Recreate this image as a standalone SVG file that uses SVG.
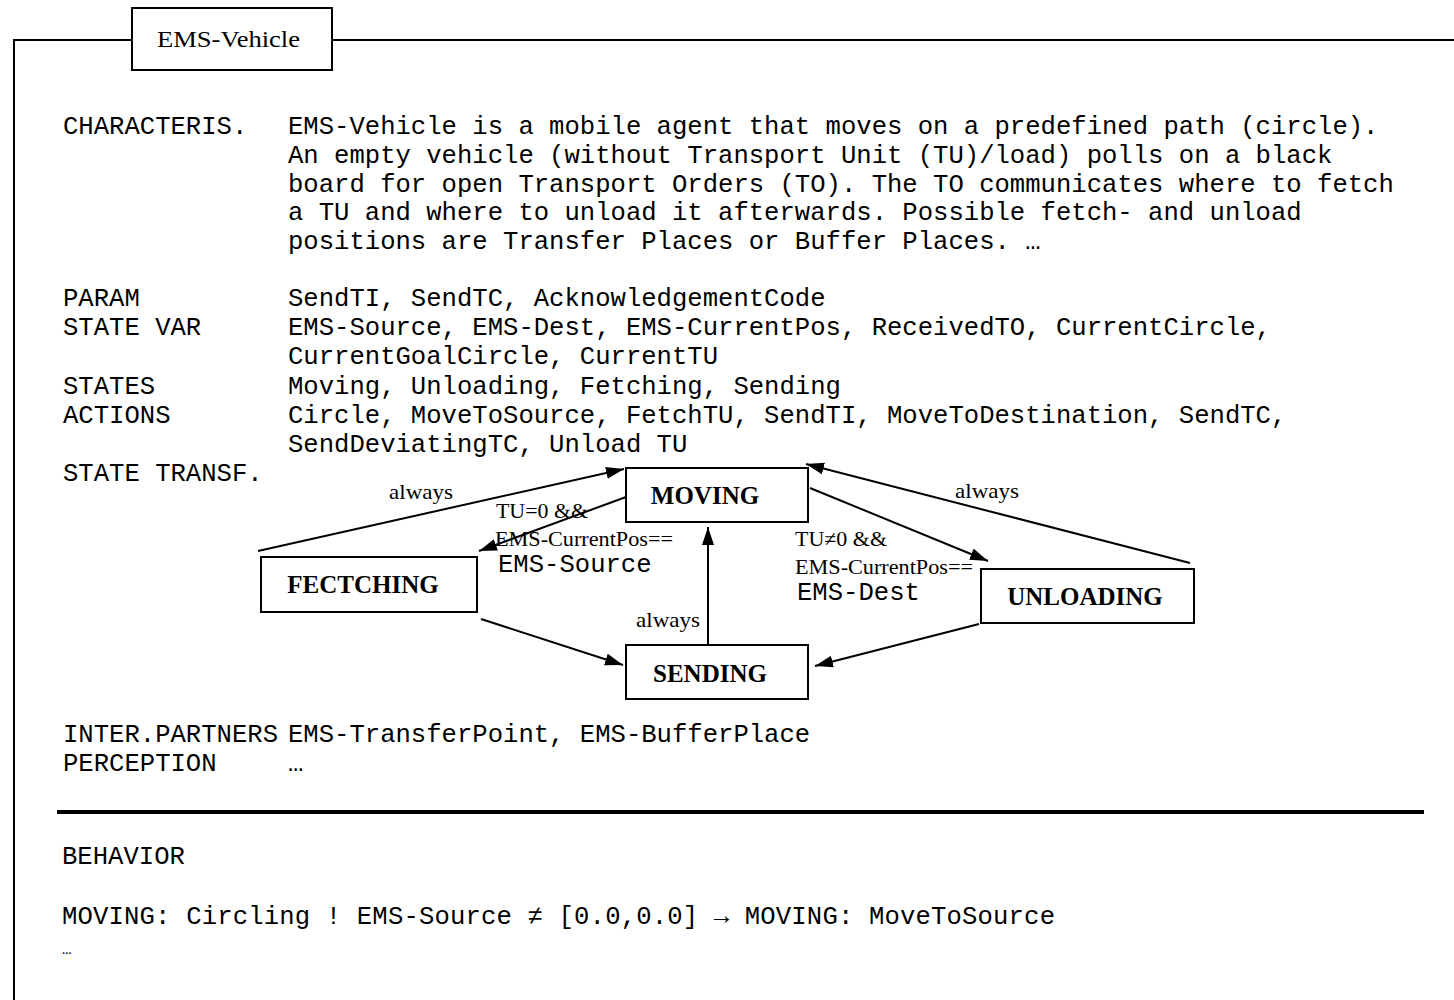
<svg xmlns="http://www.w3.org/2000/svg" width="1454" height="1000" viewBox="0 0 1454 1000">
<style>
.mono{font-family:"Liberation Mono","Courier New",monospace;font-size:25.6px;fill:#000}
.lbl{font-family:"Liberation Serif","Times New Roman",serif;font-size:21px;fill:#000}
.st{font-family:"Liberation Serif","Times New Roman",serif;font-size:25px;font-weight:bold;fill:#000;text-anchor:middle}
.box{fill:#fff;stroke:#000;stroke-width:2}
.edge{stroke:#000;stroke-width:2;fill:none;marker-end:url(#arr)}
</style>
<defs>
<marker id="arr" markerUnits="userSpaceOnUse" markerWidth="20" markerHeight="14" refX="18" refY="6" orient="auto">
<path d="M0,0 L18,6 L0,12 z" fill="#000"/>
</marker>
</defs>
<rect width="1454" height="1000" fill="#fff"/>
<g id="frame">
<path d="M14,1000 L14,40 L132,40 M332,40 L1454,40" fill="none" stroke="#000" stroke-width="2"/>
<line x1="57" y1="812" x2="1424" y2="812" stroke="#000" stroke-width="4"/>
</g>
<g id="title">
<rect class="box" x="132" y="8" width="200" height="62"/>
<text x="157" y="47" font-family="Liberation Serif, serif" font-size="23" textLength="143" lengthAdjust="spacingAndGlyphs">EMS-Vehicle</text>
</g>
<g id="text" class="mono">
<text x="63" y="134">CHARACTERIS.</text>
<text x="288" y="134">EMS-Vehicle is a mobile agent that moves on a predefined path (circle).</text>
<text x="288" y="163">An empty vehicle (without Transport Unit (TU)/load) polls on a black</text>
<text x="288" y="192">board for open Transport Orders (TO). The TO communicates where to fetch</text>
<text x="288" y="220">a TU and where to unload it afterwards. Possible fetch- and unload</text>
<text x="288" y="249">positions are Transfer Places or Buffer Places. …</text>
<text x="63" y="306">PARAM</text>
<text x="288" y="306">SendTI, SendTC, AcknowledgementCode</text>
<text x="63" y="335">STATE VAR</text>
<text x="288" y="335">EMS-Source, EMS-Dest, EMS-CurrentPos, ReceivedTO, CurrentCircle,</text>
<text x="288" y="364">CurrentGoalCircle, CurrentTU</text>
<text x="63" y="394">STATES</text>
<text x="288" y="394">Moving, Unloading, Fetching, Sending</text>
<text x="63" y="423">ACTIONS</text>
<text x="288" y="423">Circle, MoveToSource, FetchTU, SendTI, MoveToDestination, SendTC,</text>
<text x="288" y="452">SendDeviatingTC, Unload TU</text>
<text x="63" y="481">STATE TRANSF.</text>
<text x="63" y="742">INTER.PARTNERS</text>
<text x="288" y="742">EMS-TransferPoint, EMS-BufferPlace</text>
<text x="63" y="771">PERCEPTION</text>
<text x="288" y="771">…</text>
<text x="62" y="864">BEHAVIOR</text>
<text x="62" y="924" textLength="993" lengthAdjust="spacing">MOVING: Circling ! EMS-Source ≠ [0.0,0.0] → MOVING: MoveToSource</text>
<text x="62" y="954" font-size="16">…</text>
</g>
<g id="connectors">
<line class="edge" x1="258" y1="551" x2="624" y2="469"/>
<line class="edge" x1="626" y1="497" x2="479" y2="551"/>
<line class="edge" x1="481" y1="619" x2="623" y2="665"/>
<line class="edge" x1="708" y1="645" x2="708" y2="527"/>
<line class="edge" x1="810" y1="488" x2="988" y2="561"/>
<line class="edge" x1="1190" y1="563" x2="806" y2="464"/>
<line class="edge" x1="979" y1="624" x2="815" y2="666"/>
<text class="lbl" x="389" y="499" textLength="64" lengthAdjust="spacingAndGlyphs">always</text>
<text class="lbl" x="496" y="518" textLength="92" lengthAdjust="spacingAndGlyphs">TU=0 &amp;&amp;</text>
<text class="lbl" x="495" y="546" textLength="178" lengthAdjust="spacingAndGlyphs">EMS-CurrentPos==</text>
<text class="mono" x="498" y="572">EMS-Source</text>
<text class="lbl" x="636" y="627" textLength="64" lengthAdjust="spacingAndGlyphs">always</text>
<text class="lbl" x="795" y="546" textLength="92" lengthAdjust="spacingAndGlyphs">TU≠0 &amp;&amp;</text>
<text class="lbl" x="795" y="574" textLength="178" lengthAdjust="spacingAndGlyphs">EMS-CurrentPos==</text>
<text class="mono" x="797" y="600">EMS-Dest</text>
<text class="lbl" x="955" y="498" textLength="64" lengthAdjust="spacingAndGlyphs">always</text>
</g>
<g id="moving">
<rect class="box" x="626" y="468" width="182" height="54"/>
<text class="st" x="705" y="504">MOVING</text>
</g>
<g id="fetching">
<rect class="box" x="261" y="557" width="216" height="55"/>
<text class="st" x="363" y="593">FECTCHING</text>
</g>
<g id="unloading">
<rect class="box" x="981" y="569" width="213" height="54"/>
<text class="st" x="1085" y="605">UNLOADING</text>
</g>
<g id="sending">
<rect class="box" x="626" y="645" width="182" height="54"/>
<text class="st" x="710" y="682">SENDING</text>
</g>
</svg>
